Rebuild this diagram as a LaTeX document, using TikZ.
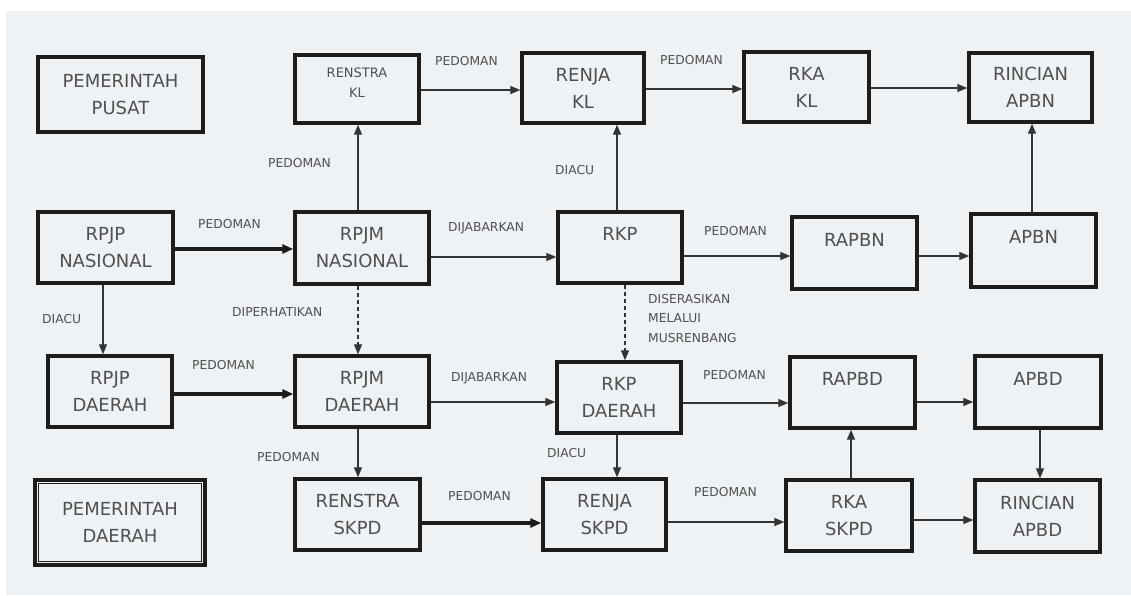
\documentclass[tikz,border=0pt]{standalone}
\usepackage{fontspec}
\setmainfont{DejaVu Sans}
\usetikzlibrary{arrows.meta,positioning}
\definecolor{bgc}{RGB}{239,242,244}
\definecolor{boxc}{RGB}{28,28,28}
\definecolor{txtc}{RGB}{78,80,82}
\definecolor{linec}{RGB}{50,52,54}
\tikzset{
  box/.style={draw=boxc, line width=3.4pt, fill=bgc, text=txtc, align=center,
    inner sep=0pt, font=\fontsize{18}{27}\selectfont},
  lbl/.style={text=txtc, inner sep=0pt, anchor=west, font=\fontsize{12.3}{19.5}\selectfont},
  arr/.style={draw=linec, line width=1.3pt, -{Triangle[length=10pt,width=8pt]}},
  tarr/.style={draw=boxc, line width=3.2pt, -{Triangle[length=11pt,width=9pt]}},
  darr/.style={draw=linec, line width=1.3pt, dash pattern=on 4pt off 3pt, -{Triangle[length=10pt,width=8pt]}}
}
\begin{document}
\begin{tikzpicture}[x=1pt,y=-1pt]
\useasboundingbox (0,0) rectangle (1131,595);
\fill[white] (0,0) rectangle (1131,595);
\fill[bgc] (6,11) rectangle (1131,595);
% row 1
\node[box, minimum width=165pt, minimum height=75pt] (pp) at (120.5,94.5) {PEMERINTAH\\PUSAT};
\node[box, minimum width=124pt, minimum height=68pt, font=\fontsize{13}{20}\selectfont] (rkl) at (357,89) {RENSTRA\\KL\rule[-12pt]{0pt}{12pt}};
\node[box, minimum width=122pt, minimum height=70pt] (jkl) at (583,88) {RENJA\\KL};
\node[box, minimum width=125pt, minimum height=70pt] (kkl) at (806.5,87) {RKA\\KL};
\node[box, minimum width=123pt, minimum height=69pt] (rincn) at (1030.5,87.5) {RINCIAN\\APBN};
% row 2
\node[box, minimum width=135pt, minimum height=71pt] (rpjpn) at (105.5,247.5) {RPJP\\NASIONAL};
\node[box, minimum width=134pt, minimum height=72pt] (rpjmn) at (362,248) {RPJM\\NASIONAL};
\node[box, minimum width=124pt, minimum height=71pt] (rkp) at (620,247.5) {RKP\\\mbox{}};
\node[box, minimum width=125pt, minimum height=72pt] (rapbn) at (854.5,253) {RAPBN\\\mbox{}};
\node[box, minimum width=125pt, minimum height=73pt] (apbn) at (1033.5,250.5) {APBN\\\mbox{}};
% row 3
\node[box, minimum width=124pt, minimum height=71pt] (rpjpd) at (110,391.5) {RPJP\\DAERAH};
\node[box, minimum width=134pt, minimum height=71pt] (rpjmd) at (362,391.5) {RPJM\\DAERAH};
\node[box, minimum width=124pt, minimum height=71pt] (rkpd) at (619,397.5) {RKP\\DAERAH};
\node[box, minimum width=125pt, minimum height=71pt] (rapbd) at (852.5,392.5) {RAPBD\\\mbox{}};
\node[box, minimum width=126pt, minimum height=72pt] (apbd) at (1038,392) {APBD\\\mbox{}};
% row 4
\node[box, minimum width=170pt, minimum height=85pt] (pd) at (120,522.5) {PEMERINTAH\\DAERAH};
\draw[boxc, line width=1.3pt] ([shift={(5.5pt,5.5pt)}]pd.south west) rectangle ([shift={(-5.5pt,-5.5pt)}]pd.north east);
\node[box, minimum width=125pt, minimum height=71pt] (rskpd) at (357.5,514.5) {RENSTRA\\SKPD};
\node[box, minimum width=123pt, minimum height=71pt] (jskpd) at (604.5,514.5) {RENJA\\SKPD};
\node[box, minimum width=126pt, minimum height=71pt] (kskpd) at (849,515.5) {RKA\\SKPD};
\node[box, minimum width=125pt, minimum height=72pt] (rincd) at (1037.5,516) {RINCIAN\\APBD};
% horizontal connectors
\draw[arr] (rkl.east |- 0,90) -- (jkl.west |- 0,90);
\draw[arr] (jkl.east |- 0,89) -- (kkl.west |- 0,89);
\draw[arr] (kkl.east |- 0,88) -- (rincn.west |- 0,88);
\draw[tarr] (rpjpn.east |- 0,249) -- (rpjmn.west |- 0,249);
\draw[arr] (rpjmn.east |- 0,257) -- (rkp.west |- 0,257);
\draw[arr] (rkp.east |- 0,256) -- (rapbn.west |- 0,256);
\draw[arr] (rapbn.east |- 0,256) -- (apbn.west |- 0,256);
\draw[tarr] (rpjpd.east |- 0,394) -- (rpjmd.west |- 0,394);
\draw[arr] (rpjmd.east |- 0,402) -- (rkpd.west |- 0,402);
\draw[arr] (rkpd.east |- 0,403) -- (rapbd.west |- 0,403);
\draw[arr] (rapbd.east |- 0,402) -- (apbd.west |- 0,402);
\draw[tarr] (rskpd.east |- 0,523) -- (jskpd.west |- 0,523);
\draw[arr] (jskpd.east |- 0,522) -- (kskpd.west |- 0,522);
\draw[arr] (kskpd.east |- 0,520) -- (rincd.west |- 0,520);
% vertical connectors
\draw[arr] (rpjmn.north -| 358,0) -- (rkl.south -| 358,0);
\draw[arr] (rkp.north -| 617,0) -- (jkl.south -| 617,0);
\draw[arr] (apbn.north -| 1032,0) -- (rincn.south -| 1032,0);
\draw[arr] (rpjpn.south -| 103,0) -- (rpjpd.north -| 103,0);
\draw[darr] (rpjmn.south -| 358,0) -- (rpjmd.north -| 358,0);
\draw[darr] (rkp.south -| 625,0) -- (rkpd.north -| 625,0);
\draw[arr] (apbd.south -| 1040,0) -- (rincd.north -| 1040,0);
\draw[arr] (kskpd.north -| 851,0) -- (rapbd.south -| 851,0);
\draw[arr] (rpjmd.south -| 358,0) -- (rskpd.north -| 358,0);
\draw[arr] (rkpd.south -| 617,0) -- (jskpd.north -| 617,0);
% labels
\node[lbl] (l1) at (435,61.5) {PEDOMAN};
\node[lbl] (l2) at (660,60) {PEDOMAN};
\node[lbl] (l3) at (268,163.5) {PEDOMAN};
\node[lbl] (l4) at (555,170) {DIACU};
\node[lbl] (l5) at (198,224) {PEDOMAN};
\node[lbl] (l6) at (448,228) {DIJABARKAN};
\node[lbl] (l7) at (704,231) {PEDOMAN};
\node[lbl] (l8) at (42,319) {DIACU};
\node[lbl] (l9) at (232,312) {DIPERHATIKAN};
\node[lbl, align=left] (l10) at (648,318.5) {DISERASIKAN\\MELALUI\\MUSRENBANG};
\node[lbl] (l11) at (192,365) {PEDOMAN};
\node[lbl] (l12) at (451,378) {DIJABARKAN};
\node[lbl] (l13) at (703,375) {PEDOMAN};
\node[lbl] (l14) at (257,457) {PEDOMAN};
\node[lbl] (l15) at (547,453) {DIACU};
\node[lbl] (l16) at (448,496) {PEDOMAN};
\node[lbl] (l17) at (694,492) {PEDOMAN};
\end{tikzpicture}
\end{document}
